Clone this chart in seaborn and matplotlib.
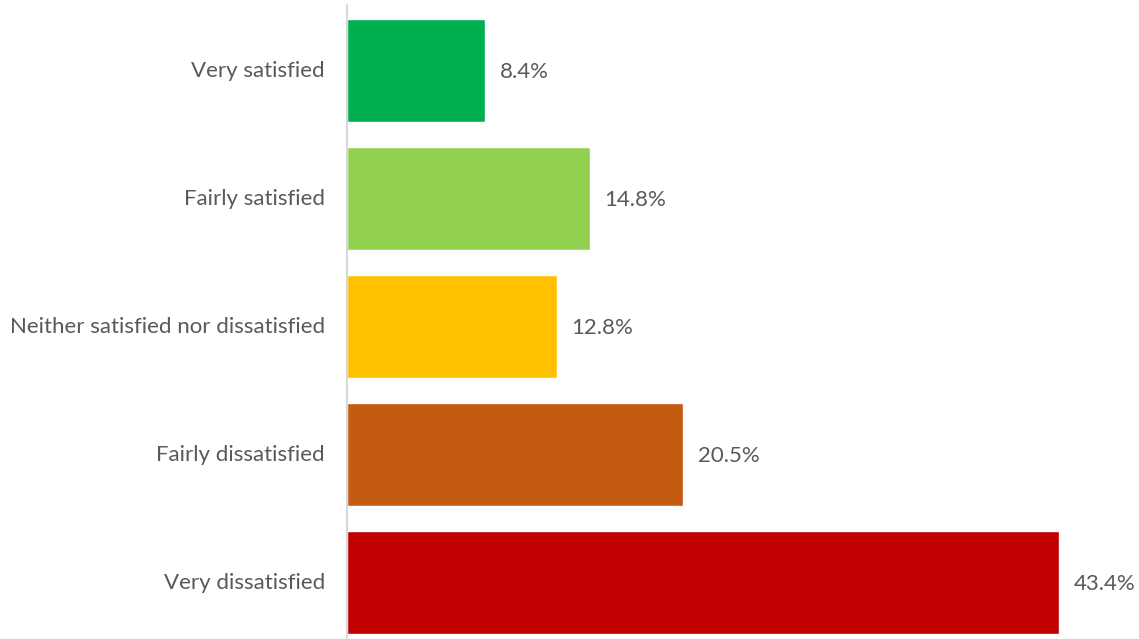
import matplotlib
matplotlib.use("Agg")
import matplotlib.pyplot as plt
import seaborn as sns
import pandas as pd

categories = ["Very satisfied", "Fairly satisfied", "Neither satisfied nor dissatisfied",
              "Fairly dissatisfied", "Very dissatisfied"]
values = [8.4, 14.8, 12.8, 20.5, 43.4]
colors = ["#00B050", "#92D050", "#FFC000", "#C55A11", "#C00000"]

sns.set_theme(style="white")
plt.rcParams["font.family"] = ["Lato", "DejaVu Sans"]

df = pd.DataFrame({"category": categories, "value": values})

fig = plt.figure(figsize=(11.39, 6.39), dpi=100)
ax = fig.add_axes([347 / 1139, 0, 1 - 347 / 1139, 634 / 639])

sns.barplot(data=df, y="category", x="value", hue="category", palette=colors,
            orient="h", width=0.805, saturation=1, legend=False, ax=ax)

ax.set_xlim(0, 48.26)
ax.set_ylim(4.441, -0.512)

for i, v in enumerate(values):
    ax.annotate(f"{v}%", xy=(v, i), xytext=(10.5, -1), textcoords="offset points",
                va="center", ha="left", fontsize=16, color="#595959")

ax.set_xlabel("")
ax.set_ylabel("")
ax.set_xticks([])
ax.tick_params(axis="y", length=0, pad=16, labelsize=16, labelcolor="#595959")
for lbl in ax.get_yticklabels():
    lbl.set_verticalalignment("center")
for s in ["top", "right", "bottom"]:
    ax.spines[s].set_visible(False)
ax.spines["left"].set_color("#D9D9D9")
ax.spines["left"].set_linewidth(1.5)

fig.savefig("out.png", dpi=100)
